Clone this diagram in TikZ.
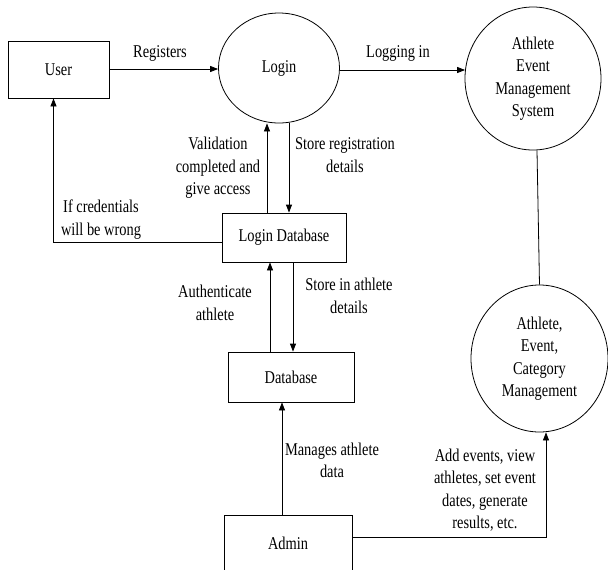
\documentclass[tikz,border=0pt]{standalone}
\usepackage{fontspec}
\setmainfont[FakeStretch=0.8]{Liberation Serif}
\usetikzlibrary{shapes.geometric, arrows.meta, calc}
\tikzstyle{block} = [rectangle, draw, fill=white, inner sep=0pt]
\tikzstyle{process} = [ellipse, draw, fill=white, inner sep=0pt, align=center]
\tikzstyle{flow} = [draw, -{Triangle[length=6pt,width=4.5pt]}]
\tikzstyle{note} = [align=center, inner sep=0pt]

\begin{document}
\begin{tikzpicture}[x=0.75pt, y=-0.75pt, line width=0.6pt,
  font=\fontsize{13.5}{16.9}\selectfont]

\useasboundingbox (0,0) rectangle (608,569);

% entities and data stores
\node [block, minimum width=75.75pt, minimum height=42.75pt] at (58.5,69.5) (user) {User};
\node [block, minimum width=93pt, minimum height=36.75pt] at (284,237.5) (ldb) {Login Database};
\node [block, minimum width=94.5pt, minimum height=37.5pt] at (291,377) (db) {Database};
\node [block, minimum width=96pt, minimum height=42pt] at (288,543) (admin) {Admin};

% processes
\node [process, minimum width=90.75pt, minimum height=82.5pt] at (279,68) (login) {Login};
\node [process, minimum width=102pt, minimum height=107.25pt] at (533,78.5) (aems)
	{Athlete\\Event\\Management\\System};
\node [process, minimum width=102.75pt, minimum height=110.25pt] at (539.5,358.5) (acm)
	{Athlete,\\Event,\\Category\\Management};

% flows
\draw [flow] (user.east |- 0,69) -- (login.west |- 0,69);
\draw [flow] (login.east |- 0,70) -- ($(aems.west)+(0.5,-8.5)$);
\draw [flow] ($(login.south)+(10,0)$) -- ($(ldb.north)+(5,0)$);
\draw [flow] ($(ldb.north)+(-17,0)$) -- ($(login.south)+(-12,0)$);
\draw [flow] ($(ldb.west)+(0,4.5)$) -| ($(user.south)+(-5,0)$);
\draw [flow] ($(ldb.south)+(9,0)$) -- ($(db.north)+(2,0)$);
\draw [flow] ($(db.north)+(-21,0)$) -- ($(ldb.south)+(-14,0)$);
\draw [flow] ($(admin.north)+(-6,0)$) -- ($(db.south)+(-9,0)$);
\draw [flow] ($(admin.east)+(0,-6)$) -| ($(acm.south)+(6.5,0)$);
\draw ($(aems.south)+(4,0)$) -- (acm.north);

% labels
\node [note] at (160,53) (registers) {Registers};
\node [note] at (398,53) (loggingin) {Logging in};
\node [note] at (218,168) (validation) {Validation\\completed and\\give access};
\node [note] at (345,155) (storereg) {Store registration\\details};
\node [note] at (101,219.5) (wrong) {If credentials\\will be wrong};
\node [note] at (215,303) (authenticate) {Authenticate\\athlete};
\node [note] at (349,296) (storeathlete) {Store in athlete\\details};
\node [note] at (332,460.5) (manages) {Manages athlete\\data};
\node [note] at (485,490) (addevents) {Add events, view\\athletes, set event\\dates, generate\\results, etc.};

\end{tikzpicture}
\end{document}
